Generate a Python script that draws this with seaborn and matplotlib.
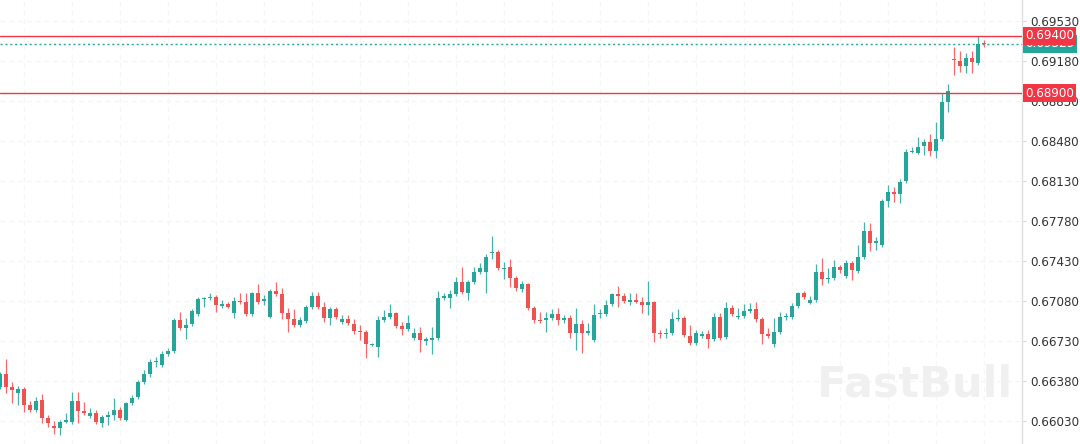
import numpy as np
import pandas as pd
import matplotlib
matplotlib.use("Agg")
import matplotlib.pyplot as plt
import matplotlib.transforms as mtransforms
import seaborn as sns

# ---------------- data (candles) ----------------
opens = [
    0.66328, 0.66441, 0.66328, 0.66275, 0.66310, 0.66170, 0.66126, 0.66214, 0.66056, 0.65986,
    0.65969, 0.66021, 0.66021, 0.66205, 0.66118, 0.66074, 0.66100, 0.66013, 0.66065, 0.66083,
    0.66126, 0.66039, 0.66188, 0.66240, 0.66371, 0.66441, 0.66546, 0.66520, 0.66616, 0.66643,
    0.66914, 0.66844, 0.66879, 0.66966, 0.67098, 0.67106, 0.67115, 0.67036, 0.67054, 0.66975,
    0.67080, 0.67071, 0.66966, 0.67150, 0.67080, 0.66940, 0.67168, 0.67141, 0.66975, 0.66923,
    0.66870, 0.66905, 0.67028, 0.67124, 0.67028, 0.66931, 0.67010, 0.66896, 0.66923, 0.66879,
    0.66818, 0.66809, 0.66695, 0.66678, 0.66914, 0.66940, 0.66975, 0.66861, 0.66835, 0.66756,
    0.66800, 0.66730, 0.66739, 0.66756, 0.67106, 0.67106, 0.67141, 0.67246, 0.67150, 0.67246,
    0.67334, 0.67334, 0.67500, 0.67509, 0.67360, 0.67378, 0.67281, 0.67185, 0.67229, 0.67019,
    0.66914, 0.66914, 0.66931, 0.66966, 0.66914, 0.66931, 0.66800, 0.66879, 0.66800, 0.66739,
    0.66966, 0.66966, 0.67054, 0.67141, 0.67124, 0.67071, 0.67089, 0.67071, 0.67045, 0.67071,
    0.66800, 0.66791, 0.66800, 0.66923, 0.66931, 0.66774, 0.66713, 0.66774, 0.66791, 0.66748,
    0.66940, 0.66765, 0.67019, 0.66940, 0.66949, 0.66993, 0.67010, 0.66923, 0.66791, 0.66704,
    0.66809, 0.66940, 0.66940, 0.67036, 0.67150, 0.67063, 0.67089, 0.67334, 0.67273, 0.67281,
    0.67378, 0.67299, 0.67413, 0.67343, 0.67465, 0.67693, 0.67588, 0.67570, 0.67955, 0.68034,
    0.68016, 0.68130, 0.68384, 0.68375, 0.68436, 0.68471, 0.68393, 0.68498, 0.68821, 0.69198,
    0.69180, 0.69136, 0.69206, 0.69163, 0.69336,
]
highs = [
    0.66459, 0.66573, 0.66371, 0.66336, 0.66328, 0.66205, 0.66240, 0.66266, 0.66083, 0.66030,
    0.66039, 0.66100, 0.66284, 0.66284, 0.66196, 0.66144, 0.66126, 0.66083, 0.66118, 0.66231,
    0.66153, 0.66196, 0.66258, 0.66389, 0.66476, 0.66573, 0.66590, 0.66643, 0.66669, 0.66931,
    0.66984, 0.66931, 0.67010, 0.67115, 0.67115, 0.67150, 0.67133, 0.67089, 0.67071, 0.67115,
    0.67150, 0.67150, 0.67159, 0.67229, 0.67133, 0.67185, 0.67246, 0.67194, 0.67019, 0.67010,
    0.66940, 0.67045, 0.67159, 0.67159, 0.67071, 0.67028, 0.67028, 0.66958, 0.66958, 0.66923,
    0.66870, 0.66826, 0.66713, 0.66949, 0.67001, 0.67054, 0.66984, 0.66896, 0.66958, 0.66844,
    0.66853, 0.66765, 0.66853, 0.67168, 0.67150, 0.67176, 0.67290, 0.67378, 0.67264, 0.67378,
    0.67413, 0.67491, 0.67649, 0.67526, 0.67421, 0.67448, 0.67299, 0.67255, 0.67238, 0.67036,
    0.66984, 0.66984, 0.67010, 0.67019, 0.66958, 0.66958, 0.67019, 0.66914, 0.66888, 0.67054,
    0.67010, 0.67089, 0.67150, 0.67211, 0.67150, 0.67150, 0.67150, 0.67115, 0.67255, 0.67080,
    0.66826, 0.66844, 0.66984, 0.67010, 0.66949, 0.66870, 0.66826, 0.66818, 0.66826, 0.66975,
    0.66975, 0.67071, 0.67045, 0.67019, 0.67054, 0.67063, 0.67071, 0.66940, 0.66844, 0.66931,
    0.66984, 0.66975, 0.67063, 0.67159, 0.67168, 0.67124, 0.67404, 0.67456, 0.67369, 0.67439,
    0.67395, 0.67439, 0.67430, 0.67570, 0.67771, 0.67763, 0.67640, 0.67972, 0.68095, 0.68078,
    0.68148, 0.68410, 0.68428, 0.68515, 0.68498, 0.68541, 0.68646, 0.68900, 0.68979, 0.69303,
    0.69268, 0.69250, 0.69268, 0.69399, 0.69364,
]
lows = [
    0.66310, 0.66275, 0.66188, 0.66170, 0.66109, 0.66109, 0.66109, 0.66013, 0.65978, 0.65916,
    0.65908, 0.66013, 0.66004, 0.66013, 0.66083, 0.66056, 0.66004, 0.65978, 0.65995, 0.66039,
    0.66039, 0.66030, 0.66170, 0.66223, 0.66354, 0.66415, 0.66503, 0.66503, 0.66599, 0.66625,
    0.66826, 0.66748, 0.66861, 0.66949, 0.67028, 0.67089, 0.66984, 0.67019, 0.67019, 0.66931,
    0.67054, 0.66949, 0.66949, 0.67054, 0.67045, 0.66931, 0.67124, 0.66923, 0.66809, 0.66853,
    0.66853, 0.66888, 0.67010, 0.67010, 0.66896, 0.66870, 0.66923, 0.66879, 0.66870, 0.66791,
    0.66739, 0.66581, 0.66686, 0.66590, 0.66896, 0.66923, 0.66844, 0.66783, 0.66818, 0.66739,
    0.66634, 0.66695, 0.66616, 0.66739, 0.67089, 0.67019, 0.67124, 0.67141, 0.67089, 0.67229,
    0.67316, 0.67150, 0.67448, 0.67351, 0.67273, 0.67203, 0.67168, 0.67159, 0.67001, 0.66888,
    0.66888, 0.66809, 0.66914, 0.66870, 0.66888, 0.66756, 0.66651, 0.66625, 0.66783, 0.66721,
    0.66931, 0.66949, 0.67036, 0.67028, 0.67063, 0.67045, 0.67063, 0.66975, 0.66958, 0.66721,
    0.66756, 0.66756, 0.66783, 0.66905, 0.66765, 0.66695, 0.66695, 0.66756, 0.66669, 0.66730,
    0.66739, 0.66748, 0.66949, 0.66923, 0.66931, 0.66975, 0.66896, 0.66704, 0.66756, 0.66678,
    0.66791, 0.66914, 0.66923, 0.67019, 0.67098, 0.67054, 0.67071, 0.67220, 0.67238, 0.67264,
    0.67325, 0.67281, 0.67264, 0.67325, 0.67448, 0.67518, 0.67526, 0.67553, 0.67903, 0.67946,
    0.67938, 0.68113, 0.68375, 0.68366, 0.68358, 0.68349, 0.68331, 0.68480, 0.68734, 0.69058,
    0.69084, 0.69075, 0.69075, 0.69145, 0.69303,
]
closes = [
    0.66441, 0.66328, 0.66301, 0.66310, 0.66170, 0.66126, 0.66205, 0.66056, 0.66013, 0.65969,
    0.66021, 0.66039, 0.66205, 0.66118, 0.66100, 0.66100, 0.66021, 0.66065, 0.66083, 0.66126,
    0.66056, 0.66188, 0.66231, 0.66371, 0.66441, 0.66546, 0.66555, 0.66616, 0.66643, 0.66914,
    0.66844, 0.66870, 0.66993, 0.67098, 0.67106, 0.67115, 0.67045, 0.67054, 0.67028, 0.67080,
    0.67071, 0.66966, 0.67150, 0.67071, 0.67098, 0.67168, 0.67141, 0.66975, 0.66923, 0.66870,
    0.66914, 0.67028, 0.67124, 0.67028, 0.66931, 0.67010, 0.66940, 0.66923, 0.66888, 0.66818,
    0.66809, 0.66704, 0.66704, 0.66914, 0.66940, 0.66975, 0.66861, 0.66835, 0.66888, 0.66800,
    0.66739, 0.66748, 0.66756, 0.67106, 0.67124, 0.67141, 0.67246, 0.67159, 0.67246, 0.67334,
    0.67369, 0.67465, 0.67509, 0.67369, 0.67369, 0.67281, 0.67194, 0.67229, 0.67019, 0.66914,
    0.66905, 0.66931, 0.66966, 0.66914, 0.66931, 0.66800, 0.66879, 0.66800, 0.66818, 0.66958,
    0.66975, 0.67045, 0.67141, 0.67124, 0.67080, 0.67089, 0.67071, 0.67045, 0.67071, 0.66800,
    0.66791, 0.66800, 0.66923, 0.66931, 0.66783, 0.66713, 0.66800, 0.66791, 0.66748, 0.66940,
    0.66756, 0.67019, 0.66966, 0.66949, 0.66993, 0.67010, 0.66923, 0.66791, 0.66774, 0.66809,
    0.66940, 0.66949, 0.67036, 0.67150, 0.67115, 0.67089, 0.67334, 0.67273, 0.67281, 0.67378,
    0.67351, 0.67413, 0.67351, 0.67465, 0.67693, 0.67588, 0.67605, 0.67955, 0.68034, 0.68016,
    0.68121, 0.68384, 0.68393, 0.68428, 0.68471, 0.68393, 0.68498, 0.68821, 0.68918, 0.69189,
    0.69136, 0.69206, 0.69171, 0.69329, 0.69329,
]

ytick_values = [0.66030, 0.66380, 0.66730, 0.67080, 0.67430, 0.67780,
                0.68130, 0.68480, 0.68830, 0.69180, 0.69530]
level_lines = [0.69400, 0.68900]
last_price = 0.69329

# ---------------- styling ----------------
UP = "#26a69a"
DOWN = "#ef5350"
LEVEL = "#f23645"

sns.set_theme(style="white")
plt.rcParams["font.family"] = ["DejaVu Sans"]

df = pd.DataFrame({"open": opens, "high": highs, "low": lows, "close": closes})
df["idx"] = np.arange(len(df))
df["up"] = df["close"] >= df["open"]
df["color"] = np.where(df["up"], UP, DOWN)
df["bottom"] = df[["open", "close"]].min(axis=1)
df["height"] = (df["close"] - df["open"]).abs().clip(lower=0.00012)

fig = plt.figure(figsize=(10.8, 4.44), dpi=100)
fig.patch.set_facecolor("white")
ax = fig.add_axes([0, 0, 1022 / 1080, 1])
ax.set_facecolor("white")

# very faint dashed grid
for yv in ytick_values:
    ax.axhline(yv, color="#f5f5f5", lw=0.9, ls=(0, (4, 3)), zorder=0)
for xv in range(4, len(df) + 1, 8):
    ax.axvline(xv, color="#f6f6f6", lw=0.9, ls=(0, (4, 3)), zorder=0)

# watermark
fig.text(0.847, 0.135, "FastBull", fontsize=31, fontweight="bold",
         color="#f0f0f0", ha="center", va="center", zorder=1)

# candles
ax.vlines(df["idx"], df["low"], df["high"], colors=df["color"], lw=0.9,
          alpha=0.85, zorder=2)
ax.bar(df["idx"], df["height"], bottom=df["bottom"], width=0.7,
       color=df["color"], linewidth=0, zorder=3)

# level lines
for lv in level_lines:
    ax.axhline(lv, color=LEVEL, lw=1.0, zorder=4)
ax.axhline(last_price, color=UP, lw=1.0, ls=(0, (1.5, 2)), zorder=4)

ax.set_xlim(0.05, 170.38)
ax.set_ylim(0.658288, 0.697138)
ax.set_xticks([])
ax.yaxis.tick_right()
ax.set_yticks(ytick_values)
ax.set_yticklabels([f"{v:.5f}" for v in ytick_values])
ax.tick_params(axis="y", labelsize=8.6, labelcolor="#333333", length=3,
               color="#d8d8d8", pad=3, width=0.8)
for s in ["top", "left", "bottom"]:
    ax.spines[s].set_visible(False)
ax.spines["right"].set_color("#e0e0e0")
ax.spines["right"].set_linewidth(1.0)

trans = mtransforms.blended_transform_factory(ax.transAxes, ax.transData)
ax.text(1.003, last_price, f"{last_price:.5f}", transform=trans, va="center",
        ha="left", fontsize=8.6, color="white", clip_on=False, zorder=10,
        bbox=dict(boxstyle="square,pad=0.18", fc=UP, ec="none"))
for lv in level_lines:
    ax.text(1.003, lv, f"{lv:.5f}", transform=trans, va="center", ha="left",
            fontsize=8.6, color="white", clip_on=False, zorder=11,
            bbox=dict(boxstyle="square,pad=0.18", fc=LEVEL, ec="none"))

fig.savefig("out.png", dpi=100, facecolor="white")
